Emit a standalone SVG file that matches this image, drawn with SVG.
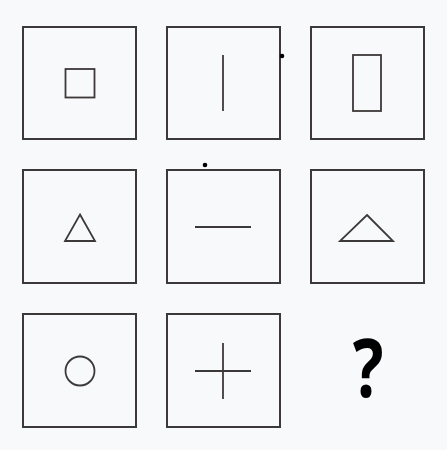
<svg xmlns="http://www.w3.org/2000/svg" width="447" height="450" viewBox="0 0 447 450">
<style>
.box{fill:none;stroke:#3d3939;stroke-width:2}
.sh{fill:none;stroke:#3d3939;stroke-width:1.8}
.dot{fill:#000}
.q{font-family:"Noto Sans","Open Sans","Liberation Sans",sans-serif;font-weight:700;font-size:80px;fill:#000}
</style>
<rect width="447" height="450" fill="#f8f9fb"/>
<g id="c11"><rect class="box" x="23" y="27" width="113" height="112"/><rect class="sh" x="65.5" y="69" width="29" height="28.5"/></g>
<g id="c12"><rect class="box" x="167" y="27" width="113" height="112"/><line class="sh" x1="223" y1="55" x2="223" y2="111"/></g>
<g id="c13"><rect class="box" x="311" y="27" width="113" height="112"/><rect class="sh" x="353" y="55" width="28" height="56"/></g>
<g id="c21"><rect class="box" x="23" y="170" width="113" height="113"/><polygon class="sh" points="80,214.5 95,241 65,241"/></g>
<g id="c22"><rect class="box" x="167" y="170" width="113" height="113"/><line class="sh" x1="195" y1="227" x2="251" y2="227"/></g>
<g id="c23"><rect class="box" x="311" y="170" width="113" height="113"/><polygon class="sh" points="367,215 393,241 340,241"/></g>
<g id="c31"><rect class="box" x="23" y="314" width="113" height="113"/><circle class="sh" cx="80" cy="371" r="14.5"/></g>
<g id="c32"><rect class="box" x="167" y="314" width="113" height="113"/><line class="sh" x1="195" y1="371" x2="251" y2="371"/><line class="sh" x1="223" y1="343" x2="223" y2="399"/></g>
<g id="c33"><text class="q" transform="translate(368,397) scale(0.8,1)" text-anchor="middle">?</text></g>
<circle class="dot" cx="282" cy="56" r="2.3"/>
<circle class="dot" cx="205" cy="165" r="2.3"/>
</svg>
